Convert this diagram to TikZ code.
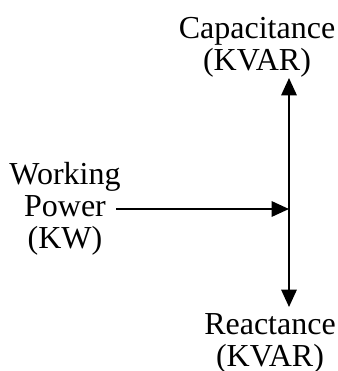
\documentclass[tikz,border=0pt]{standalone}
\usepackage{fontspec}
\setmainfont{Liberation Serif}
\usetikzlibrary{arrows.meta}

\tikzset{
  lbl/.style={align=center, inner sep=0pt, font=\fontsize{24}{24}\selectfont},
  vec/.style={line width=1.5pt, -{Triangle[length=13pt, width=11.5pt]}}
}

\begin{document}
\begin{tikzpicture}[x=0.75pt, y=-0.75pt]
  \useasboundingbox (0,0) rectangle (337,371);

  \node[lbl] (cap) at (257,47) {Capacitance\\(KVAR)};
  \node[lbl] (rea) at (270,343) {Reactance\\(KVAR)};
  \node[lbl] (wp) at (65,209) {Working\\Power\\(KW)};

  \coordinate (mid) at (289,209);
  \coordinate (top) at (289,78);
  \coordinate (bot) at (289,307);
  \coordinate (start) at (116,209);

  \draw[vec] (mid) -- (top);
  \draw[vec] (mid) -- (bot);
  \draw[vec] (start) -- (mid);
\end{tikzpicture}
\end{document}
